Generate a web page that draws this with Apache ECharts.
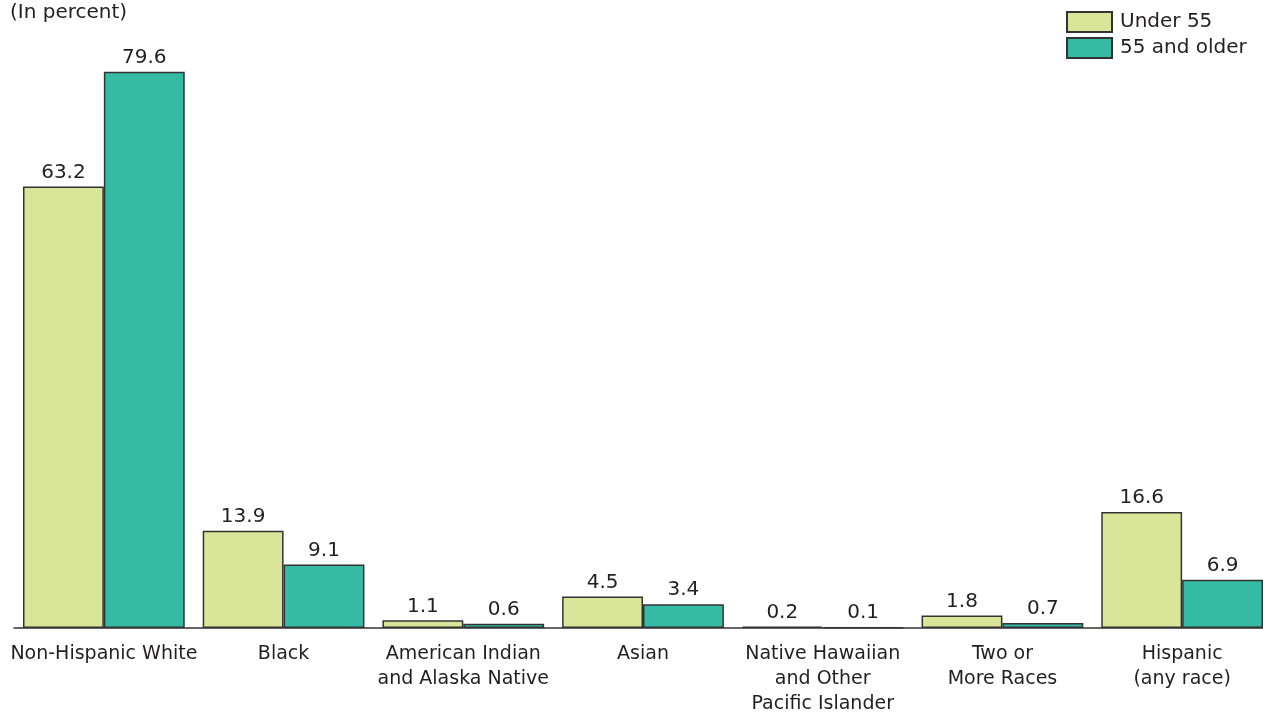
<!DOCTYPE html>
<html>
<head>
<meta charset="utf-8">
<script src="https://cdn.jsdelivr.net/npm/echarts@6/dist/echarts.min.js"></script>
<style>
  html, body { margin: 0; padding: 0; background: #fff; }
  #chart { width: 1263px; height: 713px; }
</style>
</head>
<body>
<div id="chart"></div>
<script>
// Race and Hispanic origin shares by age group (percent)
const categories = [
  'Non-Hispanic White',
  'Black',
  'American Indian\nand Alaska Native',
  'Asian',
  'Native Hawaiian\nand Other\nPacific Islander',
  'Two or\nMore Races',
  'Hispanic\n(any race)'
];
const under55 = [63.2, 13.9, 1.1, 4.5, 0.2, 1.8, 16.6];
const older55 = [79.6, 9.1, 0.6, 3.4, 0.1, 0.7, 6.9];

const FONT = '"DejaVu Sans", "Noto Sans", sans-serif';
const TEXT = '#231f20';

const chart = echarts.init(document.getElementById('chart'));

const barLabel = {
  show: true,
  position: 'top',
  distance: 4,
  fontFamily: FONT,
  fontSize: 20,
  color: TEXT,
  formatter: p => p.value.toFixed(1)
};

chart.setOption({
  animation: false,
  backgroundColor: '#ffffff',
  textStyle: { fontFamily: FONT },
  graphic: [{
    type: 'text',
    left: 10,
    top: 3,
    style: { text: '(In percent)', font: '20px ' + FONT, fill: TEXT }
  }],
  legend: {
    orient: 'vertical',
    left: 1061,
    top: 6,
    itemWidth: 45,
    itemHeight: 20,
    itemGap: 4,
    icon: 'rect',
    textStyle: { fontFamily: FONT, fontSize: 20, lineHeight: 20, color: TEXT, padding: [0, 0, 0, 3] },
    data: ['Under 55', '55 and older']
  },
  grid: { left: 14, top: 69, width: 1258, height: 559, containLabel: false, outerBoundsMode: 'none' },
  xAxis: {
    type: 'category',
    data: categories,
    axisLine: { lineStyle: { color: '#333333', width: 1.5 } },
    axisTick: { show: false },
    axisLabel: {
      interval: 0,
      margin: 14,
      fontFamily: FONT,
      fontSize: 19,
      lineHeight: 25,
      color: TEXT,
      align: 'center',
      verticalAlign: 'top'
    }
  },
  yAxis: {
    type: 'value',
    min: 0,
    max: 80,
    show: false,
    splitLine: { show: false }
  },
  series: [
    {
      name: 'Under 55',
      type: 'bar',
      data: under55,
      barWidth: '45%',
      barGap: '0%',
      itemStyle: { color: '#d9e69a', borderColor: '#333333', borderWidth: 1.5 },
      label: barLabel
    },
    {
      name: '55 and older',
      type: 'bar',
      data: older55,
      barWidth: '45%',
      barGap: '0%',
      itemStyle: { color: '#35bba4', borderColor: '#333333', borderWidth: 1.5 },
      label: barLabel
    }
  ]
});
</script>
</body>
</html>
